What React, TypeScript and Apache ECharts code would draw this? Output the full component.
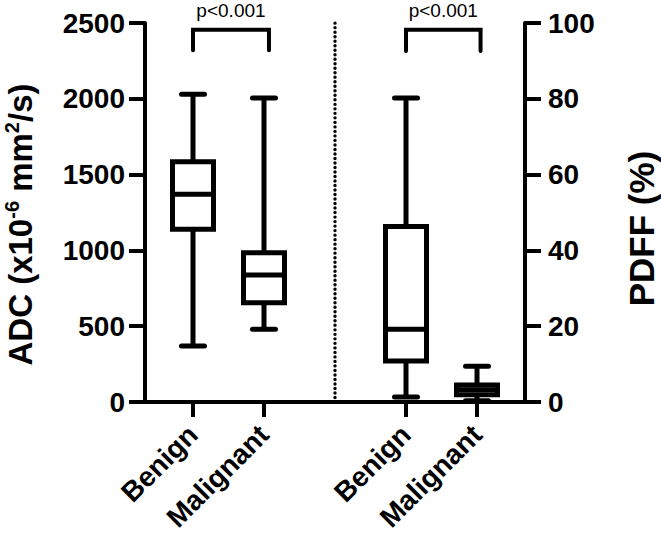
import React, { useEffect, useRef } from "react";
import * as echarts from "echarts";

const categoryPositions = [0, 1, 3, 4];
const categoryLabels = ["Benign", "Malignant", "Benign", "Malignant"];
// [x, min, q1, median, q3, max]
const adcBoxes = [
  [0, 370, 1140, 1370, 1585, 2030],
  [1, 480, 655, 838, 985, 2005],
];
const pdffBoxes = [
  [3, 1.3, 10.8, 19.2, 46.3, 80.2],
  [4, 0.3, 1.9, 3.2, 4.5, 9.4],
];
const pLabel = "p<0.001";
// [xStart, xEnd, yTop, yLeg]
const adcBracket = [[0, 1.07, 2455, 2320]];
const pdffBracket = [[3, 4.05, 98.2, 92.6]];
const divider = [[2, 0, 2512]];

const FONT = "Arial, 'Liberation Sans', sans-serif";

const boxRender = (_params: any, api: any) => {
  const x = api.value(0);
  const cx = api.coord([x, 0])[0];
  const yMin = api.coord([x, api.value(1)])[1];
  const yQ1 = api.coord([x, api.value(2)])[1];
  const yMed = api.coord([x, api.value(3)])[1];
  const yQ3 = api.coord([x, api.value(4)])[1];
  const yMax = api.coord([x, api.value(5)])[1];
  const half = 20.5;
  const capHalf = 11.5;
  const lw = 5;
  const ls = { stroke: "#000", lineWidth: lw };
  return {
    type: "group",
    children: [
      { type: "line", shape: { x1: cx, y1: yMax, x2: cx, y2: yQ3 }, style: ls },
      { type: "line", shape: { x1: cx, y1: yQ1, x2: cx, y2: yMin }, style: ls },
      { type: "line", shape: { x1: cx - capHalf, y1: yMax, x2: cx + capHalf, y2: yMax }, style: { ...ls, lineCap: "round" } },
      { type: "line", shape: { x1: cx - capHalf, y1: yMin, x2: cx + capHalf, y2: yMin }, style: { ...ls, lineCap: "round" } },
      { type: "rect", shape: { x: cx - half, y: yQ3, width: half * 2, height: yQ1 - yQ3 }, style: { fill: "#fff", stroke: "#000", lineWidth: lw } },
      { type: "line", shape: { x1: cx - half, y1: yMed, x2: cx + half, y2: yMed }, style: ls },
    ],
  };
};

const bracketRender = (_params: any, api: any) => {
  const p1 = api.coord([api.value(0), api.value(3)]);
  const p2 = api.coord([api.value(0), api.value(2)]);
  const p3 = api.coord([api.value(1), api.value(2)]);
  const p4 = api.coord([api.value(1), api.value(3)]);
  return {
    type: "group",
    children: [
      {
        type: "polyline",
        shape: { points: [p1, p2, p3, p4] },
        style: { stroke: "#000", lineWidth: 4, fill: null, lineJoin: "miter", lineCap: "round" },
      },
      {
        type: "text",
        x: (p2[0] + p3[0]) / 2,
        y: p2[1] - 19,
        style: { text: pLabel, fontSize: 19, fontFamily: FONT, fill: "#000", align: "center", verticalAlign: "middle" },
      },
    ],
  };
};

const dividerRender = (_params: any, api: any) => {
  const a = api.coord([api.value(0), api.value(1)]);
  const b = api.coord([api.value(0), api.value(2)]);
  return {
    type: "line",
    shape: { x1: a[0], y1: a[1], x2: b[0], y2: b[1] },
    style: { stroke: "#000", lineWidth: 3.4, lineDash: [0.01, 4.5], lineCap: "round" },
  };
};

export default function App() {
  const ref = useRef<HTMLDivElement>(null);
  useEffect(() => {
    if (!ref.current) return;
    const chart = echarts.init(ref.current, null, { renderer: "svg" });
    const yLabel = { fontSize: 28, fontWeight: "bold", fontFamily: FONT, color: "#000", formatter: (v: number) => String(v) };
    const axisLineStyle = { lineStyle: { color: "#000", width: 4 } };
    chart.setOption({
      animation: false,
      backgroundColor: "#fff",
      grid: { left: 145, right: 136, top: 23, bottom: 131, outerBoundsMode: "none", containLabel: false },
      xAxis: {
        type: "value",
        min: -0.676,
        max: 4.676,
        splitLine: { show: false },
        axisLine: { show: true, onZero: false, ...axisLineStyle },
        axisTick: { show: true, length: 15, customValues: categoryPositions, lineStyle: { color: "#000", width: 4 } },
        axisLabel: {
          customValues: categoryPositions,
          rotate: 45,
          margin: 28,
          fontSize: 28,
          lineHeight: 26,
          fontWeight: "bold",
          fontFamily: FONT,
          color: "#000",
          formatter: (v: number) => {
            const i = categoryPositions.indexOf(Math.round(v));
            return i >= 0 ? categoryLabels[i] : "";
          },
        },
      },
      yAxis: [
        {
          type: "value",
          position: "left",
          min: 0,
          max: 2500,
          interval: 500,
          splitLine: { show: false },
          axisLine: { show: true, onZero: false, ...axisLineStyle },
          axisTick: { show: true, length: 16, lineStyle: { color: "#000", width: 4 } },
          axisLabel: { ...yLabel, margin: 20 },
          name: "ADC (x10{sup|-6} mm{sup|2}/s)",
          nameLocation: "middle",
          nameRotate: 90,
          nameGap: 107,
          nameTextStyle: {
            fontSize: 33,
            fontWeight: "bold",
            fontFamily: FONT,
            color: "#000",
            lineHeight: 36,
            padding: [0, 24, 0, 0],
            rich: {
              sup: { fontSize: 20, fontWeight: "bold", fontFamily: FONT, color: "#000", verticalAlign: "top", lineHeight: 20 },
            },
          },
        },
        {
          type: "value",
          position: "right",
          min: 0,
          max: 100,
          interval: 20,
          splitLine: { show: false },
          axisLine: { show: true, onZero: false, ...axisLineStyle },
          axisTick: { show: true, length: 16, lineStyle: { color: "#000", width: 4 } },
          axisLabel: { ...yLabel, margin: 23 },
          name: "PDFF (%)",
          nameLocation: "middle",
          nameRotate: 90,
          nameGap: 101,
          nameTextStyle: { fontSize: 35, lineHeight: 30, fontWeight: "bold", fontFamily: FONT, color: "#000", padding: [0, 32, 0, 0] },
        },
      ],
      series: [
        { type: "custom", yAxisIndex: 0, renderItem: dividerRender, data: divider, z: 1 },
        { type: "custom", yAxisIndex: 0, renderItem: boxRender, data: adcBoxes, z: 2 },
        { type: "custom", yAxisIndex: 1, renderItem: boxRender, data: pdffBoxes, z: 2 },
        { type: "custom", yAxisIndex: 0, renderItem: bracketRender, data: adcBracket, z: 2 },
        { type: "custom", yAxisIndex: 1, renderItem: bracketRender, data: pdffBracket, z: 2 },
      ],
    });
    return () => chart.dispose();
  }, []);
  return <div ref={ref} style={{ width: 661, height: 533, position: "absolute", left: 0, top: 0 }} />;
}
